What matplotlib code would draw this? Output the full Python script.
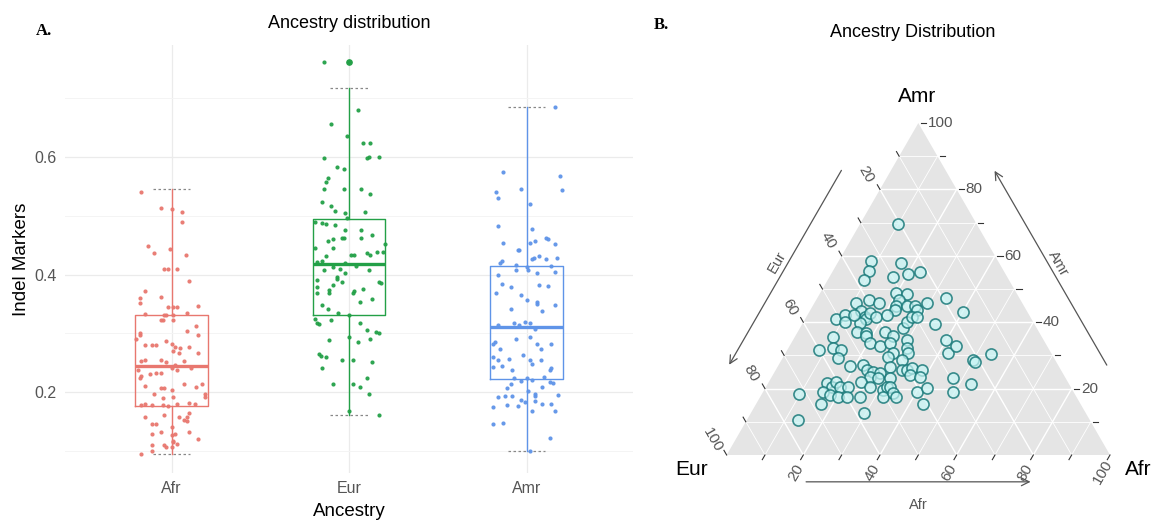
import numpy as np
import matplotlib
matplotlib.use("Agg")
import matplotlib.pyplot as plt

plt.rcParams['font.family'] = ['Liberation Sans', 'DejaVu Sans']

# ---- panel A data ----
groups = ["Afr", "Eur", "Amr"]
group_colors = ["#E8776F", "#23A047", "#5F94E8"]

# box statistics: low whisker, q1, median, q3, high whisker
box_lo = [0.094, 0.161, 0.100]
box_q1 = [0.176, 0.331, 0.222]
box_med = [0.245, 0.418, 0.311]
box_q3 = [0.331, 0.495, 0.415]
box_hi = [0.545, 0.718, 0.685]
box_fliers = [[], [0.762], []]

# jittered points: (horizontal jitter, value)
afr_pts = [
    (-0.17, 0.540), (-0.06, 0.514), (0.00, 0.511), (0.06, 0.506), (0.06, 0.490),
    (-0.13, 0.448), (-0.10, 0.436), (-0.01, 0.444), (0.08, 0.434),
    (-0.04, 0.410), (-0.02, 0.410), (0.03, 0.410), (0.10, 0.389),
    (-0.15, 0.372), (-0.18, 0.360), (-0.18, 0.352), (-0.06, 0.362),
    (-0.02, 0.345), (0.01, 0.345), (0.03, 0.345), (0.15, 0.347),
    (-0.15, 0.332), (-0.04, 0.331), (-0.03, 0.331), (0.01, 0.331), (0.09, 0.334),
    (-0.06, 0.322), (-0.05, 0.322), (0.01, 0.322), (0.14, 0.313), (0.09, 0.304),
    (-0.18, 0.301), (-0.18, 0.297), (0.15, 0.297), (-0.20, 0.290),
    (-0.15, 0.280), (-0.11, 0.280), (-0.09, 0.280), (-0.03, 0.287), (0.00, 0.282),
    (0.02, 0.277), (0.05, 0.275), (0.10, 0.277), (0.04, 0.267), (0.01, 0.270), (0.15, 0.267),
    (-0.17, 0.253), (-0.15, 0.255), (-0.06, 0.254), (-0.03, 0.251), (0.07, 0.253), (0.02, 0.246),
    (-0.19, 0.237), (-0.17, 0.228), (-0.18, 0.223), (-0.12, 0.231), (-0.09, 0.233), (-0.06, 0.233),
    (0.00, 0.240), (0.03, 0.238), (0.11, 0.240),
    (-0.15, 0.211), (-0.06, 0.207), (-0.04, 0.207), (0.07, 0.214), (0.17, 0.213), (0.14, 0.209), (0.00, 0.203),
    (-0.10, 0.197), (0.19, 0.197), (0.19, 0.191),
    (-0.15, 0.180), (-0.17, 0.178), (-0.11, 0.177), (-0.05, 0.189), (0.01, 0.191), (-0.05, 0.177), (-0.02, 0.176),
    (0.03, 0.180), (0.10, 0.181), (0.13, 0.179),
    (-0.15, 0.158), (-0.04, 0.161), (0.04, 0.157), (0.09, 0.157), (0.10, 0.164),
    (-0.11, 0.146), (-0.09, 0.146), (0.00, 0.141), (0.07, 0.153), (0.09, 0.150),
    (-0.11, 0.129), (-0.06, 0.132), (0.00, 0.126), (0.02, 0.129), (0.10, 0.131),
    (0.15, 0.120), (0.01, 0.115), (0.03, 0.112), (-0.04, 0.109), (-0.03, 0.107), (0.00, 0.106),
    (-0.11, 0.109), (-0.11, 0.100), (-0.17, 0.095), (0.01, 0.116),
]
eur_pts = [
    (-0.14, 0.762), (0.05, 0.681), (-0.10, 0.657), (-0.01, 0.636), (0.08, 0.624), (0.12, 0.624),
    (-0.14, 0.598), (0.11, 0.601), (0.10, 0.598), (0.17, 0.600), (-0.07, 0.583), (-0.03, 0.579),
    (-0.12, 0.564), (-0.13, 0.558), (-0.14, 0.545), (-0.03, 0.545), (0.07, 0.545), (0.12, 0.538),
    (-0.15, 0.524), (-0.10, 0.517), (0.09, 0.507), (-0.08, 0.508), (-0.02, 0.504), (-0.01, 0.496),
    (-0.19, 0.490), (-0.15, 0.487), (-0.13, 0.486), (-0.08, 0.484), (-0.02, 0.476), (0.07, 0.476),
    (-0.04, 0.462), (-0.03, 0.462), (0.07, 0.462), (0.13, 0.467), (-0.12, 0.458), (-0.09, 0.461),
    (-0.19, 0.445), (-0.09, 0.445), (0.20, 0.452), (0.19, 0.438), (0.01, 0.433), (0.03, 0.433),
    (-0.13, 0.432), (0.10, 0.436), (0.12, 0.433), (0.16, 0.439), (-0.18, 0.421), (-0.15, 0.423),
    (-0.09, 0.413), (-0.05, 0.409), (-0.02, 0.419), (0.04, 0.415), (-0.14, 0.407), (-0.07, 0.396),
    (-0.07, 0.393), (-0.09, 0.383), (-0.18, 0.391), (-0.18, 0.379), (-0.02, 0.402), (0.11, 0.408),
    (-0.04, 0.388), (0.17, 0.388), (0.18, 0.386), (-0.11, 0.374), (-0.11, 0.369), (0.03, 0.372),
    (0.02, 0.368), (0.08, 0.375), (-0.18, 0.368), (0.06, 0.354), (-0.15, 0.348), (-0.12, 0.342),
    (-0.06, 0.334), (0.13, 0.359), (-0.19, 0.325), (-0.18, 0.318), (-0.17, 0.315), (-0.10, 0.322),
    (0.00, 0.331), (0.06, 0.318), (0.10, 0.305), (0.15, 0.302), (0.17, 0.300), (-0.11, 0.289),
    (0.05, 0.285), (0.00, 0.294), (0.12, 0.291), (-0.17, 0.265), (-0.16, 0.261), (-0.13, 0.260),
    (-0.04, 0.254), (0.02, 0.255), (0.13, 0.251), (-0.15, 0.240), (0.10, 0.223), (-0.09, 0.213),
    (0.02, 0.214), (0.06, 0.209), (0.11, 0.196), (0.17, 0.161), (0.00, 0.168),
]
amr_pts = [
    (0.16, 0.686), (-0.13, 0.574), (0.19, 0.568), (0.20, 0.544), (-0.17, 0.540), (-0.16, 0.530),
    (-0.03, 0.546), (0.02, 0.520), (-0.16, 0.482), (0.03, 0.478), (-0.13, 0.453), (-0.05, 0.441),
    (-0.04, 0.441), (0.02, 0.454), (0.05, 0.458), (0.11, 0.463), (0.12, 0.460), (0.16, 0.452),
    (0.07, 0.432), (0.04, 0.428), (0.03, 0.426), (0.11, 0.427), (0.17, 0.429), (-0.14, 0.423),
    (-0.15, 0.419), (-0.06, 0.416), (0.00, 0.413), (0.01, 0.408), (-0.16, 0.400), (-0.06, 0.407),
    (0.14, 0.415), (0.06, 0.403), (0.16, 0.404), (-0.14, 0.384), (-0.09, 0.378), (-0.03, 0.365),
    (0.07, 0.382), (0.12, 0.380), (-0.17, 0.369), (0.06, 0.353), (0.06, 0.350), (-0.09, 0.342),
    (0.16, 0.349), (0.09, 0.338), (0.00, 0.356), (-0.16, 0.314), (-0.07, 0.317), (-0.04, 0.314),
    (-0.01, 0.319), (0.02, 0.317), (0.05, 0.308), (-0.18, 0.285), (-0.19, 0.282), (-0.06, 0.291),
    (0.02, 0.294), (0.06, 0.282), (0.14, 0.281), (-0.15, 0.274), (0.08, 0.274), (-0.19, 0.260),
    (-0.16, 0.255), (-0.10, 0.257), (-0.02, 0.263), (0.02, 0.254), (0.03, 0.248), (0.08, 0.255),
    (-0.19, 0.243), (-0.14, 0.244), (-0.08, 0.237), (0.14, 0.241), (0.13, 0.237), (0.03, 0.220),
    (0.00, 0.223), (-0.07, 0.223), (-0.03, 0.219), (0.10, 0.226), (0.13, 0.217), (0.15, 0.215),
    (-0.09, 0.213), (-0.11, 0.206), (0.09, 0.209), (-0.16, 0.191), (-0.12, 0.194), (-0.08, 0.193),
    (0.01, 0.202), (0.05, 0.197), (0.05, 0.193), (0.18, 0.195), (-0.03, 0.186), (-0.01, 0.183),
    (0.05, 0.185), (0.09, 0.180), (0.14, 0.180), (-0.19, 0.174), (-0.11, 0.177), (-0.05, 0.176),
    (0.03, 0.168), (0.16, 0.168), (-0.19, 0.146), (-0.13, 0.148), (0.13, 0.122), (0.02, 0.100),
]
group_pts = [afr_pts, eur_pts, amr_pts]

# ---- panel B data (percent Afr, percent Amr; Eur is the remainder) ----
tern_afr = [
    10.0, 8.6, 9.4, 9.4, 16.5, 20.0, 22.9, 16.7,
    19.7, 22.7, 21.6, 21.8, 22.0, 24.5, 26.7, 27.7, 29.3,
    33.5, 40.1,
    10.9, 13.8, 16.9, 13.3, 15.3, 15.8, 14.9, 16.0, 18.2, 20.6,
    8.1, 9.9, 10.9, 12.1,
    15.3, 18.1, 18.4, 20.5,
    22.8, 25.6, 27.0, 27.0, 27.4, 28.7,
    34.5,
    10.0, 8.3, 11.7, 13.9, 14.6,
    23.6, 25.7, 28.1, 27.4, 29.6, 30.9, 32.0, 31.4,
    40.0, 42.4, 43.6,
    50.0, 50.7, 53.8,
    18.7, 21.9, 23.7, 25.7, 27.7, 25.6, 24.0, 28.0,
    29.3, 31.0, 32.9, 34.2, 35.2, 35.7, 38.1, 38.6,
    47.5, 53.0,
    15.3, 17.1, 17.6, 19.3, 21.4, 15.6, 17.9, 20.3,
    22.5, 26.0, 27.1, 31.1, 31.4, 32.3, 32.1, 34.2, 35.5,
    40.0, 42.1, 43.6,
    49.5,
    9.8, 16.8, 29.4, 13.4,
]
tern_amr = [
    69.6, 58.3, 55.5, 52.8, 57.8, 54.6, 55.0, 53.6,
    48.9, 48.5, 46.7, 44.9, 43.7, 44.9, 44.9, 43.7, 45.7,
    47.4, 43.0,
    45.9, 46.7, 45.7, 43.5, 41.7, 41.0, 39.7, 42.7, 41.7, 42.2,
    41.1, 42.1, 40.2, 42.1,
    37.2, 36.7, 35.7, 33.7,
    37.2, 35.7, 38.2, 40.2, 41.7, 41.7,
    39.5,
    35.5, 31.7, 32.2, 31.7, 29.1,
    32.7, 33.7, 30.7, 29.6, 34.7, 32.2, 30.7, 28.6,
    34.7, 30.7, 32.7,
    28.6, 28.1, 30.5,
    26.9, 27.1, 25.6, 25.1, 24.6, 23.6, 22.1, 23.1,
    26.6, 23.1, 25.6, 25.6, 26.1, 24.1, 25.6, 23.6,
    23.1, 21.4,
    21.6, 20.6, 22.1, 20.6, 20.6, 19.1, 18.1, 17.6,
    17.6, 17.6, 20.6, 19.6, 20.6, 20.6, 17.6, 18.6, 17.6,
    19.1, 20.1, 15.4,
    19.1,
    18.3, 15.4, 12.8, 10.6,
]
tern_ticks = [20, 40, 60, 80, 100]

H = np.sqrt(3) / 2


def tern(afr, amr):
    afr = np.asarray(afr, dtype=float) / 100
    amr = np.asarray(amr, dtype=float) / 100
    return afr + amr / 2, amr * H


fig = plt.figure(figsize=(11.57, 5.22), dpi=100)

# ================= panel A =================
ax1 = fig.add_axes([65 / 1157, 49 / 522, 568 / 1157, 428 / 522])
ax1.set_xlim(0.4, 3.6)
ax1.set_ylim(0.062, 0.791)
ax1.set_xticks([1, 2, 3])
ax1.set_xticklabels(groups)
ax1.set_yticks([0.2, 0.4, 0.6])
ax1.set_yticklabels(["0.2", "0.4", "0.6"])
ax1.set_yticks([0.1, 0.3, 0.5, 0.7], minor=True)
ax1.grid(True, which="major", color="#EBEBEB", lw=0.9)
ax1.grid(True, which="minor", axis="y", color="#F4F4F4", lw=0.7)
ax1.set_axisbelow(True)
for s in ax1.spines.values():
    s.set_visible(False)
ax1.tick_params(which="both", length=0, labelsize=11.5, labelcolor="#555555")
ax1.tick_params(axis="y", pad=6)
ax1.tick_params(axis="x", pad=6)

stats = []
for i in range(3):
    stats.append(dict(whislo=box_lo[i], q1=box_q1[i], med=box_med[i],
                      q3=box_q3[i], whishi=box_hi[i], fliers=box_fliers[i]))
bp = ax1.bxp(stats, positions=[1, 2, 3], widths=0.41, capwidths=0.21,
             showfliers=True, manage_ticks=False)
for i, c in enumerate(group_colors):
    bp["boxes"][i].set(color=c, lw=1.0)
    bp["medians"][i].set(color=c, lw=2.4)
    for w in bp["whiskers"][2 * i:2 * i + 2]:
        w.set(color=c, lw=1.0)
    for cp in bp["caps"][2 * i:2 * i + 2]:
        cp.set(color="#888888", lw=0.9, linestyle=(0, (2, 2)))
    bp["fliers"][i].set(marker="o", markerfacecolor=c, markeredgecolor=c, markersize=3.8)

for i, pts in enumerate(group_pts):
    off = np.array([p[0] for p in pts])
    val = np.array([p[1] for p in pts])
    ax1.plot(i + 1 + off, val, "o", color=group_colors[i], markersize=3.0,
             markeredgewidth=0, alpha=0.95)

fig.text(349 / 1157, 1 - 23 / 522, "Ancestry distribution", ha="center", va="center", fontsize=13)
fig.text(349 / 1157, 1 - 511 / 522, "Ancestry", ha="center", va="center", fontsize=13.5)
fig.text(21 / 1157, 1 - 259 / 522, "Indel Markers", ha="center", va="center",
         rotation=90, fontsize=13.5)
fig.text(44 / 1157, 1 - 31 / 522, "A.", ha="center", va="center", fontsize=12,
         family="Liberation Serif", weight="bold")

# ================= panel B =================
ax2 = fig.add_axes([640 / 1157, 0, 517 / 1157, 1])
ax2.set_xlim(-0.226, 1.1226)
ax2.set_ylim(-0.1748, 1.187)
ax2.axis("off")

ax2.fill([0, 1, 0.5], [0, 0, H], color="#E5E5E5", lw=0, zorder=0)

for k in range(10, 100, 10):
    lw = 1.0 if k % 20 == 0 else 0.6
    # constant Amr
    x0, y0 = tern(0, k)
    x1, y1 = tern(100 - k, k)
    ax2.plot([x0, x1], [y0, y1], color="white", lw=lw, zorder=1)
    # constant Afr
    x0, y0 = tern(k, 0)
    x1, y1 = tern(k, 100 - k)
    ax2.plot([x0, x1], [y0, y1], color="white", lw=lw, zorder=1)
    # constant Eur
    x0, y0 = tern(100 - k, 0)
    x1, y1 = tern(0, 100 - k)
    ax2.plot([x0, x1], [y0, y1], color="white", lw=lw, zorder=1)

tick_len = 0.014
tick_col = "#333333"
lab_col = "#555555"
for k in range(10, 101, 10):
    # Amr axis (right edge)
    x, y = tern(100 - k, k)
    ax2.plot([x + 0.006, x + 0.006 + tick_len], [y, y], color=tick_col, lw=0.8)
    # Eur axis (left edge)
    x, y = tern(0, 100 - k)
    ax2.plot([x, x - 0.5 * tick_len], [y, y + H * tick_len], color=tick_col, lw=0.8)
    # Afr axis (bottom edge)
    x, y = tern(k, 0)
    ax2.plot([x, x - 0.5 * tick_len], [y, y - H * tick_len], color=tick_col, lw=0.8)

for k in tern_ticks:
    x, y = tern(100 - k, k)
    ax2.text(x + 0.024, y, str(k), ha="left", va="center", fontsize=11, color=lab_col)
    x, y = tern(0, 100 - k)
    ax2.text(x - 0.036, y + 0.040, str(k), ha="center", va="center", fontsize=11,
             color=lab_col, rotation=-60)
    x, y = tern(k, 0)
    ax2.text(x - 0.020, y - 0.045, str(k), ha="center", va="center", fontsize=11,
             color=lab_col, rotation=60)

arrow_kw = dict(arrowstyle="->", color="#555555", lw=0.9, mutation_scale=14)
# left arrow (Eur)
n = np.array([-H, 0.5]) * 0.112
p0 = np.array([0.5, H]) * 0.8 + n
p1 = np.array([0.5, H]) * 0.2 + n
ax2.annotate("", xy=p1, xytext=p0, arrowprops=arrow_kw)
pl = np.array([0.5, H]) * 0.5 + np.array([-H, 0.5]) * 0.138
ax2.text(pl[0], pl[1], "Eur", ha="center", va="center", rotation=60, fontsize=10.5, color=lab_col)
# right arrow (Amr)
n = np.array([H, 0.5]) * 0.11
p0 = np.array([1 - 0.5 * 0.2, H * 0.2]) + n
p1 = np.array([1 - 0.5 * 0.8, H * 0.8]) + n
ax2.annotate("", xy=p1, xytext=p0, arrowprops=arrow_kw)
pl = np.array([0.75, H * 0.5]) + np.array([H, 0.5]) * 0.134
ax2.text(pl[0], pl[1], "Amr", ha="center", va="center", rotation=-60, fontsize=10.5, color=lab_col)
# bottom arrow (Afr)
ax2.annotate("", xy=(0.8, -0.07), xytext=(0.2, -0.07), arrowprops=arrow_kw)
ax2.text(0.5, -0.131, "Afr", ha="center", va="center", fontsize=10.5, color=lab_col)

ax2.text(0.496, 0.935, "Amr", ha="center", va="center", fontsize=15)
ax2.text(-0.091, -0.039, "Eur", ha="center", va="center", fontsize=15)
ax2.text(1.073, -0.039, "Afr", ha="center", va="center", fontsize=15)

tx, ty = tern(tern_afr, tern_amr)
ax2.scatter(tx, ty, s=64, facecolors=(0.78, 0.96, 0.96, 0.7),
            edgecolors=(0.10, 0.48, 0.48, 0.85), linewidths=1.2, zorder=3)

ax2.text(0.486, 1.101, "Ancestry Distribution", ha="center", va="center", fontsize=13)
ax2.text(-0.170, 1.122, "B.", ha="center", va="center", fontsize=12,
         family="Liberation Serif", weight="bold")

fig.savefig("out.png", dpi=100)
